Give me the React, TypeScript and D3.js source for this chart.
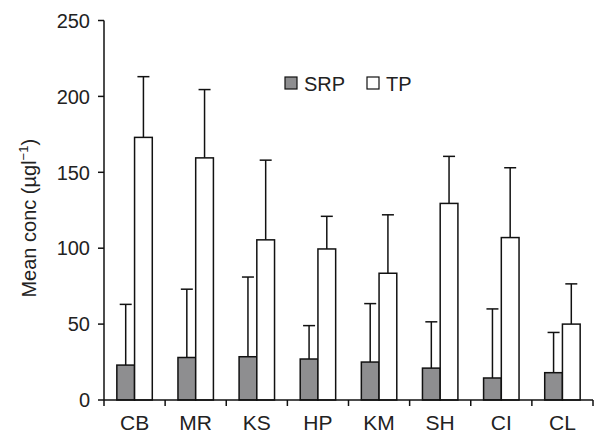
import React from 'react';
import * as d3 from 'd3';

const categories = ['CB', 'MR', 'KS', 'HP', 'KM', 'SH', 'CI', 'CL'];
const series = ['SRP', 'TP'];
const srpMean = [23, 28, 28.5, 27, 25, 21, 14.5, 18];
const srpSd = [40, 45, 52.5, 22, 38.5, 30.5, 45.5, 26.5];
const tpMean = [173, 159.5, 105.5, 99.5, 83.5, 129.5, 107, 50];
const tpSd = [40, 45, 52.5, 21.5, 38.5, 31, 46, 26.5];
const yTicks = [0, 50, 100, 150, 200, 250];

const width = 595;
const height = 433;
const margin = { left: 104, right: 2, top: 20.5, bottom: 33 };
const font = '"Liberation Sans", Arial, Helvetica, sans-serif';
const fills: Record<string, string> = { SRP: '#8e8e90', TP: '#ffffff' };

const App: React.FC = () => {
  const x0 = margin.left;
  const x1 = width - margin.right;
  const y0 = height - margin.bottom;

  const y = d3.scaleLinear().domain([0, 250]).range([y0, margin.top]);

  // full band for ticks between categories
  const xCat = d3.scaleBand<string>().domain(categories).range([x0, x1]).padding(0);
  // group band for the two bars
  const xGroup = d3.scaleBand<string>().domain(categories).range([x0, x1])
    .paddingInner(0.42).paddingOuter(0.21);
  const xBar = d3.scaleBand<string>().domain(series).range([0, xGroup.bandwidth()]);

  const rows = categories.map((c, i) => ({
    cat: c,
    values: [
      { key: 'SRP', mean: srpMean[i], sd: srpSd[i] },
      { key: 'TP', mean: tpMean[i], sd: tpSd[i] },
    ],
  }));

  const capW = 12;
  const boundaries = categories.map(c => xCat(c) as number).concat([x1]);

  return (
    <svg width={width} height={height} style={{ position: 'absolute', left: 0, top: 0 }}
      fontFamily={font}>
      <rect width={width} height={height} fill="#fff" />

      {/* bars and error bars */}
      {rows.map(r => (
        <g key={r.cat} transform={`translate(${xGroup(r.cat)},0)`}>
          {r.values.map(v => {
            const bx = xBar(v.key) as number;
            const bw = xBar.bandwidth();
            const cx = bx + bw / 2;
            return (
              <g key={v.key}>
                <line x1={cx} x2={cx} y1={y(v.mean)} y2={y(v.mean + v.sd)} stroke="#111" strokeWidth={1.5} />
                <line x1={cx - capW / 2} x2={cx + capW / 2} y1={y(v.mean + v.sd)} y2={y(v.mean + v.sd)}
                  stroke="#111" strokeWidth={1.5} />
                <rect x={bx} y={y(v.mean)} width={bw} height={y0 - y(v.mean)}
                  fill={fills[v.key]} stroke="#111" strokeWidth={1.5} />
              </g>
            );
          })}
        </g>
      ))}

      {/* y axis */}
      <line x1={x0} x2={x0} y1={y0} y2={y(250)} stroke="#111" strokeWidth={1.5} />
      {yTicks.map(t => (
        <g key={t}>
          <line x1={x0 - 6} x2={x0} y1={y(t)} y2={y(t)} stroke="#111" strokeWidth={1.5} />
          <text x={x0 - 14} y={y(t)} dy="0.36em" textAnchor="end" fontSize={20} fill="#222">{t}</text>
        </g>
      ))}

      {/* x axis */}
      <line x1={x0} x2={x1} y1={y0} y2={y0} stroke="#111" strokeWidth={1.5} />
      {boundaries.map((b, i) => (
        <line key={i} x1={b} x2={b} y1={y0} y2={y0 + 6} stroke="#111" strokeWidth={1.5} />
      ))}
      {categories.map(c => (
        <text key={c} x={(xCat(c) as number) + xCat.bandwidth() / 2} y={y0 + 30} textAnchor="middle"
          fontSize={21} fill="#222">{c}</text>
      ))}

      {/* y label */}
      <text transform={`translate(36,${(y0 + margin.top) / 2 + 8}) rotate(-90)`} textAnchor="middle"
        fontSize={20} fill="#222">
        Mean conc (µgl<tspan dy="-8" fontSize={13}>−1</tspan><tspan dy="8">)</tspan>
      </text>

      {/* legend */}
      <rect x={285} y={77} width={12} height={12} fill={fills.SRP} stroke="#111" strokeWidth={1.2} />
      <text x={304} y={91} fontSize={20} fill="#222">SRP</text>
      <rect x={367} y={77} width={12} height={12} fill={fills.TP} stroke="#111" strokeWidth={1.2} />
      <text x={386} y={91} fontSize={20} fill="#222">TP</text>
    </svg>
  );
};

export default App;
